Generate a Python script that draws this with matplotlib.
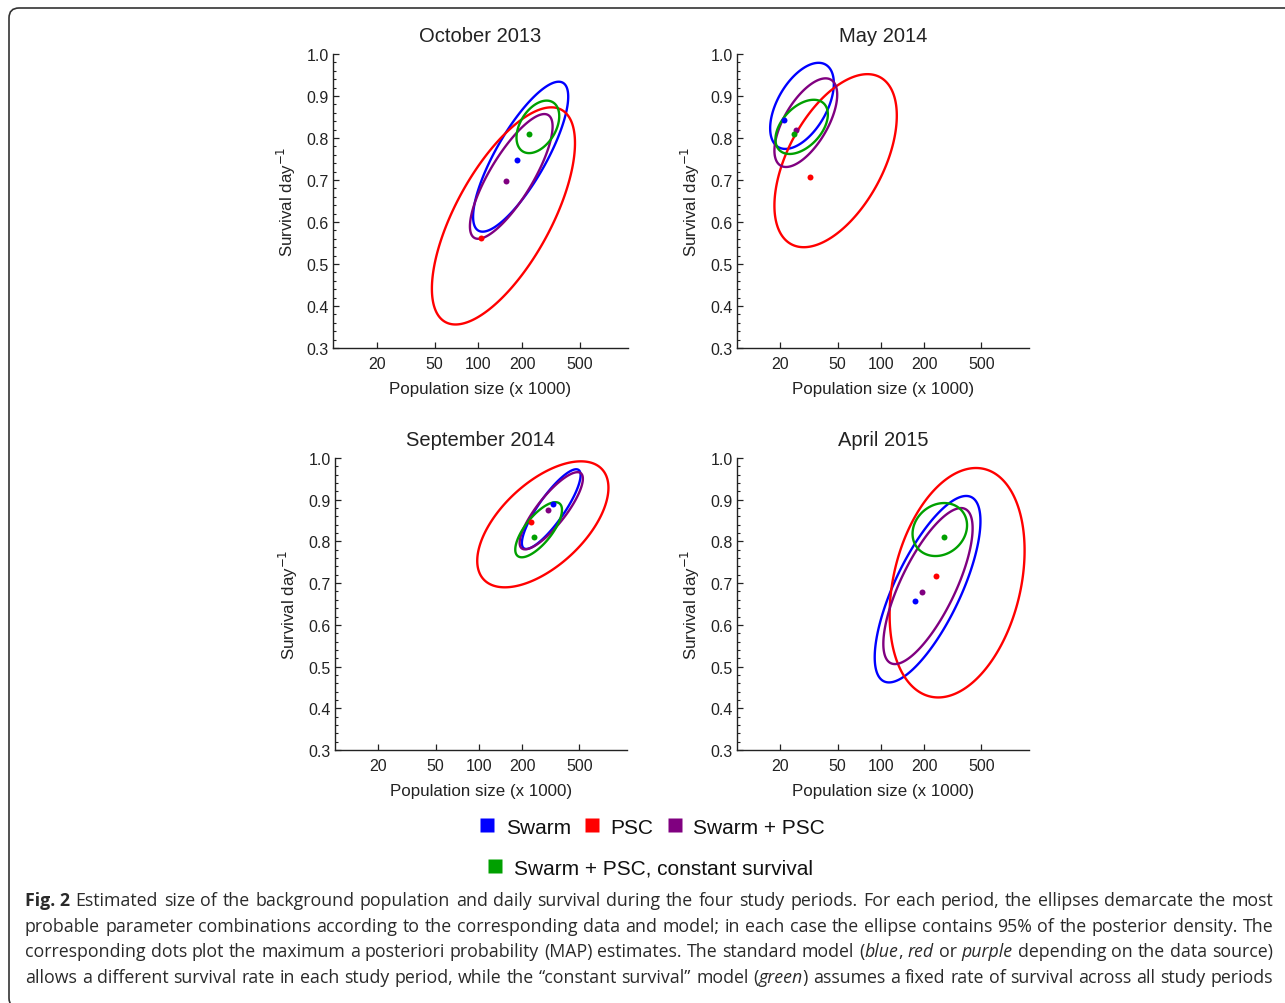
import numpy as np
import matplotlib
matplotlib.use("Agg")
import matplotlib.pyplot as plt
from matplotlib.lines import Line2D
from matplotlib.patches import FancyBboxPatch, Polygon
from matplotlib.transforms import IdentityTransform
from matplotlib.ticker import MultipleLocator, FixedLocator, FixedFormatter, NullLocator

# ---------------- data ----------------
periods = ["October 2013", "May 2014", "September 2014", "April 2015"]
series = ["Swarm", "PSC", "Swarm + PSC", "Swarm + PSC, constant survival"]
colors = ["#0000ff", "#ff0000", "#800080", "#00a000"]

# 95% ellipses: [N_min, N_max (x1000), s_min, s_max, correlation] per period
swarm_ell = [[92, 415, 0.577, 0.934, 0.80],
             [17.0, 47.1, 0.774, 0.979, 0.52],
             [199, 509, 0.782, 0.973, 0.85],
             [90.6, 492, 0.462, 0.909, 0.73]]
psc_ell = [[47.9, 462, 0.356, 0.873, 0.67],
           [18.2, 129, 0.540, 0.952, 0.52],
           [97.4, 795, 0.690, 0.992, 0.58],
           [115, 997, 0.426, 0.976, 0.28]]
swarm_psc_ell = [[87.5, 324, 0.560, 0.857, 0.80],
                 [18.2, 49.7, 0.731, 0.942, 0.63],
                 [192, 528, 0.781, 0.966, 0.83],
                 [104, 434, 0.506, 0.880, 0.74]]
constant_ell = [[183, 360, 0.764, 0.889, 0.41],
                [18.5, 42.8, 0.762, 0.891, 0.46],
                [179, 378, 0.762, 0.894, 0.72],
                [166, 397, 0.765, 0.892, 0.16]]

# MAP estimates: population size (x1000) and daily survival, per period
swarm_map_n = [184, 21.3, 326, 173]
swarm_map_s = [0.748, 0.844, 0.889, 0.657]
psc_map_n = [104, 32.4, 230, 243]
psc_map_s = [0.562, 0.707, 0.846, 0.717]
swarm_psc_map_n = [154, 25.9, 301, 193]
swarm_psc_map_s = [0.698, 0.820, 0.876, 0.678]
constant_map_n = [223, 25.0, 240, 276]
constant_map_s = [0.810, 0.810, 0.810, 0.810]

x_ticks = [20, 50, 100, 200, 500]
x_tick_labels = ["20", "50", "100", "200", "500"]

ellipses = [swarm_ell, psc_ell, swarm_psc_ell, constant_ell]
maps_n = [swarm_map_n, psc_map_n, swarm_psc_map_n, constant_map_n]
maps_s = [swarm_map_s, psc_map_s, swarm_psc_map_s, constant_map_s]


def ellipse_curve(p, n=400):
    nmin, nmax, smin, smax, rho = p
    l0, l1 = np.log10(nmin), np.log10(nmax)
    cx, hx = (l0 + l1) / 2, (l1 - l0) / 2
    cy, hy = (smin + smax) / 2, (smax - smin) / 2
    t = np.linspace(0, 2 * np.pi, n, endpoint=False)
    x = 10 ** (cx + hx * np.cos(t))
    y = cy + hy * (rho * np.cos(t) + np.sqrt(1 - rho ** 2) * np.sin(t))
    return np.column_stack([x, y])


W, H = 1285, 1004
fig = plt.figure(figsize=(W / 100, H / 100), dpi=100)
fig.patch.set_facecolor("white")
plt.rcParams["font.family"] = ["Liberation Sans", "DejaVu Sans"]

# axes boxes in pixels: left, top, right, bottom
boxes = [(333, 55, 628, 349), (737, 55, 1029, 349),
         (335, 459, 627, 751), (737, 459, 1029, 751)]

for k, (l, t, r, b) in enumerate(boxes):
    ax = fig.add_axes([l / W, 1 - b / H, (r - l) / W, (b - t) / H])
    ax.set_xscale("log")
    ax.set_xlim(10, 1070)
    ax.set_ylim(0.3, 1.0)
    for si in range(4):
        poly = Polygon(ellipse_curve(ellipses[si][k]), closed=True, fill=False,
                       ec=colors[si], lw=1.7, joinstyle="round")
        ax.add_patch(poly)
    for si in range(4):
        ax.plot(maps_n[si][k], maps_s[si][k], "o", color=colors[si], ms=4.3, mec="none")
    ax.spines["top"].set_visible(False)
    ax.spines["right"].set_visible(False)
    for sp in ("left", "bottom"):
        ax.spines[sp].set_linewidth(1.0)
        ax.spines[sp].set_color("#222222")
    ax.xaxis.set_major_locator(FixedLocator(x_ticks))
    ax.xaxis.set_major_formatter(FixedFormatter(x_tick_labels))
    ax.xaxis.set_minor_locator(NullLocator())
    ax.yaxis.set_major_locator(MultipleLocator(0.1))
    ax.yaxis.set_minor_locator(MultipleLocator(0.02))
    ax.yaxis.set_major_formatter(matplotlib.ticker.FormatStrFormatter("%.1f"))
    ax.tick_params(which="major", direction="in", length=4.5, width=0.9,
                   labelsize=11.5, pad=3, colors="#222222", labelcolor="#222222")
    ax.tick_params(which="minor", direction="in", length=2.5, width=0.8, colors="#222222")
    ax.tick_params(axis="x", which="major", pad=6)
    ax.set_title(periods[k], fontsize=14.5, pad=9, color="#222222")
    ax.set_xlabel("Population size (x 1000)", fontsize=12.2, labelpad=7, color="#222222")
    ax.set_ylabel("Survival day$^{-1}$", fontsize=12.2, labelpad=6, color="#222222")
    ax.set_facecolor("none")

# legend
handles = [Line2D([], [], ls="none", marker="s", ms=10.5, mfc=c, mec="none") for c in colors]
leg1 = fig.legend(handles[:3], series[:3], loc="center", ncol=3,
                  bbox_to_anchor=(652 / W, 1 - 828 / H), frameon=False, fontsize=15,
                  handlelength=0.8, handletextpad=0.5, columnspacing=0.6, borderpad=0)
leg2 = fig.legend(handles[3:], series[3:], loc="center", ncol=1,
                  bbox_to_anchor=(650 / W, 1 - 869 / H), frameon=False, fontsize=15,
                  handlelength=0.8, handletextpad=0.5, borderpad=0)
for lg in (leg1, leg2):
    for txt in lg.get_texts():
        txt.set_color("#111111")

# caption (justified)
cap_lines = [
    [[("Fig. 2", "b")], [("Estimated", "n")], [("size", "n")], [("of", "n")], [("the", "n")],
     [("background", "n")], [("population", "n")], [("and", "n")], [("daily", "n")],
     [("survival", "n")], [("during", "n")], [("the", "n")], [("four", "n")], [("study", "n")],
     [("periods.", "n")], [("For", "n")], [("each", "n")], [("period,", "n")], [("the", "n")],
     [("ellipses", "n")], [("demarcate", "n")], [("the", "n")], [("most", "n")]],
    [[(w, "n")] for w in "probable parameter combinations according to the corresponding data and model; in each case the ellipse contains 95% of the posterior density. The".split()],
    [[(w, "n")] for w in "corresponding dots plot the maximum a posteriori probability (MAP) estimates. The standard model".split()]
    + [[("(", "n"), ("blue", "i"), (",", "n")], [("red", "i")], [("or", "n")], [("purple", "i")]]
    + [[(w, "n")] for w in "depending on the data source)".split()],
    [[(w, "n")] for w in "allows a different survival rate in each study period, while the \u201cconstant survival\u201d model".split()]
    + [[("(", "n"), ("green", "i"), (")", "n")]]
    + [[(w, "n")] for w in "assumes a fixed rate of survival across all study periods".split()],
]
baselines = [906, 932, 957, 983]
x_left, x_right = 25, 1273
cap_size = 12.8
renderer = fig.canvas.get_renderer()
style_kw = {"n": dict(), "b": dict(fontweight="bold"), "i": dict(fontstyle="italic")}


def make_text(x, y, s, st):
    return fig.text(x / W, 1 - y / H, s, fontsize=cap_size, family=["Open Sans", "DejaVu Sans"],
                    va="baseline", ha="left", color="#2a2a2a", **style_kw[st])


for line, yb in zip(cap_lines, baselines):
    words = []
    total = 0.0
    for seg in line:
        parts = []
        wseg = 0.0
        for s, st in seg:
            tt = make_text(0, yb, s, st)
            wpx = tt.get_window_extent(renderer).width
            parts.append((tt, wpx))
            wseg += wpx
        words.append(parts)
        total += wseg
    gap = (x_right - x_left - total) / (len(words) - 1)
    x = x_left
    for parts in words:
        for tt, wpx in parts:
            tt.set_x(x / W)
            x += wpx
        x += gap

# border
border = FancyBboxPatch((9, -5), 1310, 1000, boxstyle="round,pad=0,rounding_size=10",
                        transform=IdentityTransform(), fill=False, ec="#333333", lw=1.2)
fig.add_artist(border)

fig.savefig("out.png", dpi=100, facecolor="white")
